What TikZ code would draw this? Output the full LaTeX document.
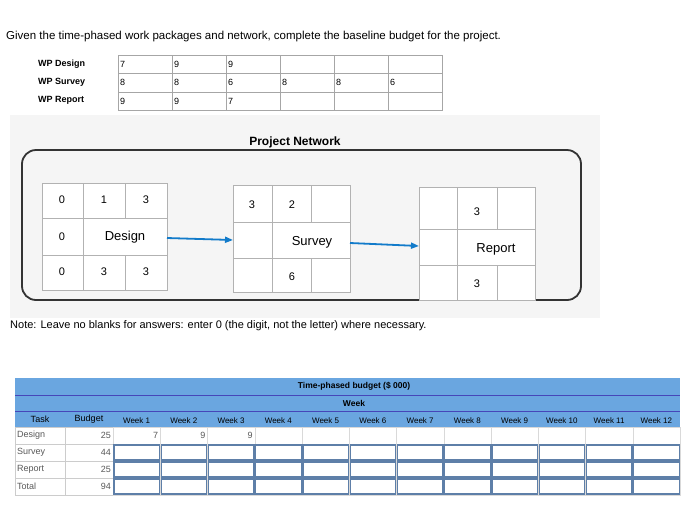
\documentclass[tikz,border=0pt]{standalone}
\usepackage{fontspec}
\setmainfont{Liberation Sans}
\usetikzlibrary{arrows.meta}
\definecolor{hdr}{HTML}{6AA6E0}
\definecolor{inb}{HTML}{5E7FA8}
\begin{document}
\begin{tikzpicture}[x=1pt,y=-1pt,
 cell/.style={draw=gray!70,line width=0.5pt},
 gridc/.style={draw=gray!60,line width=0.8pt},
 tx/.style={inner sep=0pt,font=\fontsize{11}{12}\selectfont},
 sm/.style={inner sep=0pt,font=\fontsize{9}{10}\selectfont},
 arr/.style={-{Triangle[length=8pt,width=6pt]},draw=cyan!60!blue,line width=1.8pt}]
\useasboundingbox (0,0) rectangle (700,523);
\fill[white] (0,0) rectangle (700,523);
\node[tx,anchor=west,font=\fontsize{11.5}{12}\selectfont] (title) at (6,37) {Given the time-phased work packages and network, complete the baseline budget for the project.};
% top table
\foreach \lab/\y in {WP Design/64,WP Survey/82,WP Report/100}
  \node[sm,anchor=west,font=\bfseries\fontsize{9}{10}\selectfont] at (38,\y) {\lab};
\foreach \i in {0,...,5}{\foreach \j in {0,1,2}{
  \draw[cell] ({118+54*\i},{55+18.5*\j}) rectangle ++(54,18.5);}}
\foreach \v [count=\i from 0] in {7,9,9}{\node[sm,anchor=west] at ({120+54*\i},64) {\v};}
\foreach \v [count=\i from 0] in {8,8,6,8,8,6}{\node[sm,anchor=west] at ({120+54*\i},82.5) {\v};}
\foreach \v [count=\i from 0] in {9,9,7}{\node[sm,anchor=west] at ({120+54*\i},101) {\v};}
% network
\fill[gray!8] (10,115) rectangle (600,318);
\node[tx,font=\bfseries\fontsize{12}{13}\selectfont] (pn) at (295,142) {Project Network};
\draw[black!80,line width=1.8pt,rounded corners=14pt] (22,150) rectangle (581,300);
% design
\fill[white] (42,183) rectangle (167,290);
\draw[gridc] (42,183) rectangle (167,290);
\draw[gridc] (42,218)--(167,218) (42,255)--(167,255) (83,183)--(83,290) (125,183)--(125,218) (125,255)--(125,290);
\node[tx] at (62,200) {0}; \node[tx] at (104,200) {1}; \node[tx] at (146,200) {3};
\node[tx] at (62,237) {0}; \node[tx,font=\fontsize{13}{14}\selectfont] (design) at (125,237) {Design};
\node[tx] at (62,272) {0}; \node[tx] at (104,272) {3}; \node[tx] at (146,272) {3};
\coordinate (dR) at (167,238);
% survey
\fill[white] (233,185) rectangle (350,292);
\draw[gridc] (233,185) rectangle (350,292);
\draw[gridc] (233,222)--(350,222) (233,258)--(350,258) (272,185)--(272,292) (311,185)--(311,222) (311,258)--(311,292);
\node[tx] at (252,205) {3}; \node[tx] at (292,205) {2};
\node[tx,font=\fontsize{13}{14}\selectfont] (survey) at (312,242) {Survey};
\node[tx] at (292,277) {6};
\coordinate (sL) at (233,240); \coordinate (sR) at (350,243);
% report
\fill[white] (419,187) rectangle (535,300);
\draw[gridc] (419,187) rectangle (535,300);
\draw[gridc] (419,229)--(535,229) (419,265)--(535,265) (457,187)--(457,300) (497,187)--(497,229) (497,265)--(497,300);
\node[tx] at (477,212) {3};
\node[tx,font=\fontsize{13}{14}\selectfont] (report) at (496,249) {Report};
\node[tx] at (477,284) {3};
\coordinate (rL) at (419,246);
\draw[arr] (dR)--(sL);
\draw[arr] (sR)--(rL);
\node[tx,anchor=west,font=\fontsize{11}{12}\selectfont] (note) at (10,326) {Note: Leave no blanks for answers: enter 0 (the digit, not the letter) where necessary.};
% bottom table
\fill[hdr] (15,378) rectangle (680,427);
\draw[blue!45!gray,line width=0.6pt] (15,395)--(680,395) (15,411)--(680,411);
\node[sm,font=\bfseries\fontsize{8.5}{9}\selectfont] at (354,386) {Time-phased budget (\$ 000)};
\node[sm,font=\bfseries\fontsize{8.5}{9}\selectfont] at (354,403) {Week};
\node[sm] at (40,419) {Task};
\node[sm] at (89,419) {Budget};
\foreach \k in {1,...,12}{\node[sm,font=\fontsize{8}{9}\selectfont] at ({113+47.25*(\k-0.5)},421) {Week \k};}
\foreach \lab/\b [count=\r from 0] in {Design/25,Survey/44,Report/25,Total/94}{
  \draw[cell,draw=gray!40] (15,{427+17*\r}) rectangle (65,{444+17*\r});
  \draw[cell,draw=gray!40] (65,{427+17*\r}) rectangle (113,{444+17*\r});
  \node[sm,anchor=west,text=gray!70!black] at (17,{435.5+17*\r}) {\lab};
  \node[sm,anchor=east,text=gray!70!black] at (111,{435.5+17*\r}) {\b};
  \foreach \k in {0,...,11}{\draw[cell,draw=gray!30] ({113+47.25*\k},{427+17*\r}) rectangle ++(47.25,17);}
}
\foreach \v [count=\k from 0] in {7,9,9}{\node[sm,anchor=east,text=gray!70!black] at ({113+47.25*(\k+1)-2},435.5) {\v};}
\foreach \r in {1,2,3}{\foreach \k in {0,...,11}{
  \draw[draw=inb,line width=1.2pt] ({114+47.25*\k},{428+17*\r}) rectangle ++(45.5,15);}}
\end{tikzpicture}
\end{document}
